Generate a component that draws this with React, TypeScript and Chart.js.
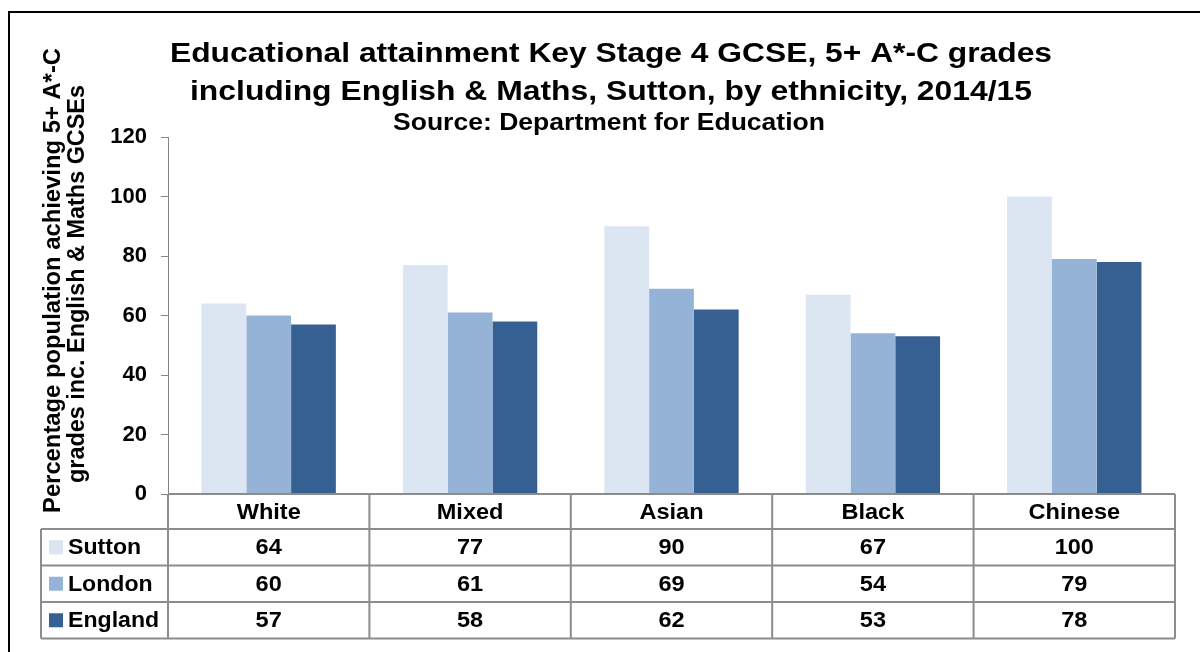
import React, { useEffect, useRef } from "react";
import { Chart, registerables } from "chart.js";

Chart.register(...registerables);

const categories = ["White", "Mixed", "Asian", "Black", "Chinese"];
const seriesNames = ["Sutton", "London", "England"];
const suttonValues = [64, 77, 90, 67, 100];
const londonValues = [60, 61, 69, 54, 79];
const englandValues = [57, 58, 62, 53, 78];
const seriesColors = ["#DCE6F2", "#95B3D7", "#376092"];
const yTicks = [0, 20, 40, 60, 80, 100, 120];

const titleLines = [
  "Educational attainment Key Stage 4 GCSE, 5+ A*-C grades",
  "including English & Maths, Sutton, by ethnicity, 2014/15",
];
const subtitleText = "Source: Department for Education";
const yTitleLines = [
  "Percentage population achieving 5+ A*-C",
  "grades inc. English & Maths GCSEs",
];

const FONT = '"Liberation Sans", Arial, sans-serif';

function textFit(
  ctx: CanvasRenderingContext2D,
  text: string,
  cx: number,
  y: number,
  width: number
) {
  const w = ctx.measureText(text).width;
  const sx = width / w;
  ctx.save();
  ctx.translate(cx, y);
  ctx.scale(sx, 1);
  ctx.textAlign = "center";
  ctx.fillText(text, 0, 0);
  ctx.restore();
}

function textStretch(
  ctx: CanvasRenderingContext2D,
  text: string,
  x: number,
  y: number,
  sx: number,
  align: CanvasTextAlign
) {
  ctx.save();
  ctx.translate(x, y);
  ctx.scale(sx, 1);
  ctx.textAlign = align;
  ctx.fillText(text, 0, 0);
  ctx.restore();
}

export default function App() {
  const ref = useRef<HTMLCanvasElement | null>(null);

  useEffect(() => {
    if (!ref.current) return;
    const seriesValues = [suttonValues, londonValues, englandValues];

    const decor = {
      id: "decor",
      afterDraw(chart: any) {
        const ctx = chart.ctx as CanvasRenderingContext2D;
        const area = chart.chartArea;
        const xs = chart.scales.x;
        ctx.save();

        // outer frame
        ctx.strokeStyle = "#000";
        ctx.lineWidth = 2;
        ctx.strokeRect(9, 12, 1220, 700);

        // titles
        ctx.fillStyle = "#000";
        ctx.textBaseline = "alphabetic";
        ctx.font = `bold 27px ${FONT}`;
        textFit(ctx, titleLines[0], 611, 62, 882);
        textFit(ctx, titleLines[1], 611, 100, 842);
        ctx.font = `bold 23px ${FONT}`;
        textFit(ctx, subtitleText, 609, 130, 432);

        // y title
        ctx.save();
        ctx.translate(0, 0);
        ctx.rotate(-Math.PI / 2);
        ctx.font = `bold 23px ${FONT}`;
        ctx.textBaseline = "middle";
        textFit(ctx, yTitleLines[0], -280.5, 54, 465);
        textFit(ctx, yTitleLines[1], -284, 78, 398);
        ctx.restore();

        // data table
        const n = categories.length;
        const step = xs.getPixelForValue(1) - xs.getPixelForValue(0);
        const left = area.left;
        const right = area.right;
        const top = area.bottom;
        const rowsY = [top, top + 35, top + 71.5, top + 108, top + 144.5];
        const headLeft = 41;
        ctx.strokeStyle = "#8c8c8c";
        ctx.lineWidth = 2;
        ctx.beginPath();
        ctx.moveTo(left, rowsY[0]);
        ctx.lineTo(right, rowsY[0]);
        for (let r = 1; r < rowsY.length; r++) {
          ctx.moveTo(headLeft, rowsY[r]);
          ctx.lineTo(right, rowsY[r]);
        }
        ctx.moveTo(headLeft, rowsY[1]);
        ctx.lineTo(headLeft, rowsY[4]);
        for (let i = 0; i <= n; i++) {
          const x = i === 0 ? left : i === n ? right : xs.getPixelForValue(i) - step / 2;
          ctx.moveTo(x, rowsY[0]);
          ctx.lineTo(x, rowsY[4]);
        }
        ctx.stroke();

        ctx.fillStyle = "#000";
        ctx.font = `bold 22px ${FONT}`;
        ctx.textBaseline = "middle";
        for (let i = 0; i < n; i++) {
          const cx = xs.getPixelForValue(i);
          textStretch(ctx, categories[i], cx, (rowsY[0] + rowsY[1]) / 2 + 1, 1.07, "center");
          for (let s = 0; s < seriesValues.length; s++) {
            textStretch(
              ctx,
              String(Math.round(seriesValues[s][i])),
              cx,
              (rowsY[s + 1] + rowsY[s + 2]) / 2 + 1,
              1.07,
              "center"
            );
          }
        }
        for (let s = 0; s < seriesNames.length; s++) {
          const cy = (rowsY[s + 1] + rowsY[s + 2]) / 2;
          ctx.fillStyle = seriesColors[s];
          ctx.fillRect(49, cy - 7, 14, 14);
          ctx.fillStyle = "#000";
          textStretch(ctx, seriesNames[s], 68, cy + 1, 1.05, "left");
        }
        ctx.restore();
      },
    };

    const chart = new Chart(ref.current, {
      type: "bar",
      data: {
        labels: categories,
        datasets: seriesNames.map((name, s) => ({
          label: name,
          data: seriesValues[s],
          backgroundColor: seriesColors[s],
          borderWidth: 0,
          categoryPercentage: 0.667,
          barPercentage: 1,
        })),
      },
      options: {
        responsive: false,
        animation: false,
        devicePixelRatio: 1,
        layout: { padding: { top: 137, right: 25, bottom: 158, left: 0 } },
        plugins: {
          legend: { display: false },
          title: { display: false },
          tooltip: { enabled: false },
        },
        scales: {
          x: { display: false },
          y: {
            min: 0,
            max: 120,
            afterFit(scale: any) {
              scale.width = 168;
            },
            afterBuildTicks(scale: any) {
              scale.ticks = yTicks.map((v) => ({ value: v }));
            },
            ticks: {
              color: "#000",
              padding: 14,
              font: { family: FONT, size: 22, weight: "bold" },
            },
            grid: {
              drawOnChartArea: false,
              drawTicks: true,
              tickLength: 7,
              color: "#868686",
            },
            border: { display: true, color: "#868686", width: 1 },
          },
        },
      },
      plugins: [decor],
    } as any);
    return () => chart.destroy();
  }, []);

  return (
    <div style={{ position: "fixed", left: 0, top: 0, width: 1200, height: 652, background: "#fff" }}>
      <canvas ref={ref} width={1200} height={652} style={{ width: 1200, height: 652 }} />
    </div>
  );
}
